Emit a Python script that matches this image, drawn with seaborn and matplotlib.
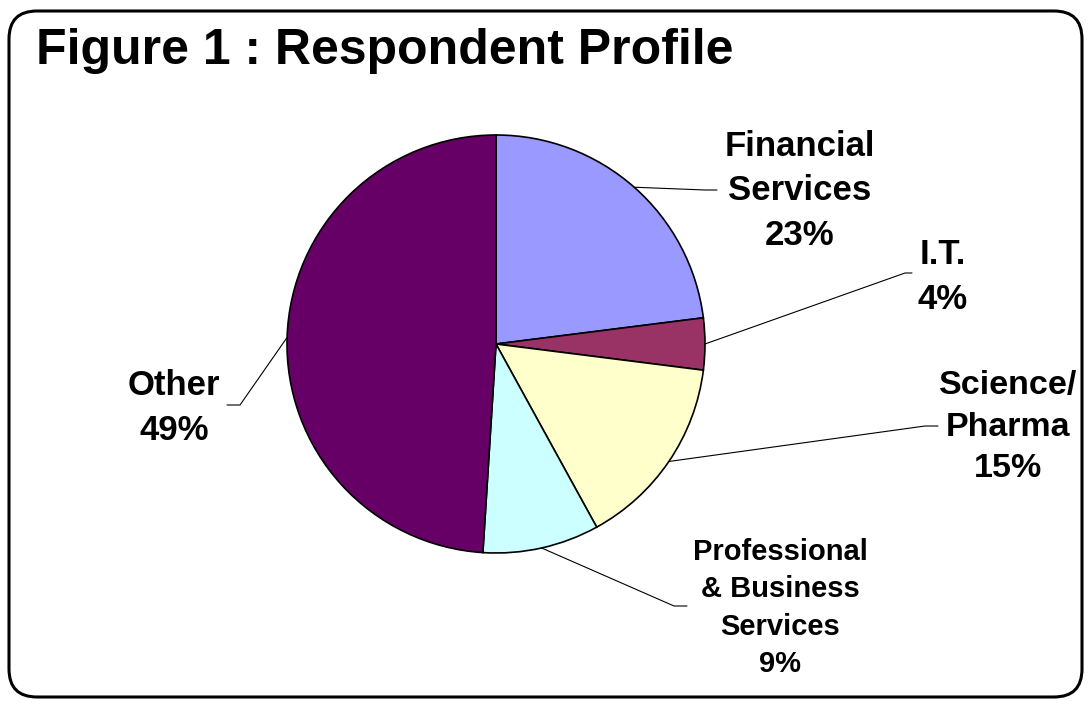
import numpy as np
import matplotlib
matplotlib.use('Agg')
import matplotlib.pyplot as plt
from matplotlib.patches import FancyBboxPatch
import seaborn as sns

sns.set_style('white')
plt.rcParams['font.family'] = ['Liberation Sans', 'DejaVu Sans']
plt.rcParams['text.color'] = 'black'

# data
labels = ['Financial\nServices', 'I.T.', 'Science/\nPharma', 'Professional\n& Business\nServices', 'Other']
values = [23, 4, 15, 9, 49]
colors = ['#9999FF', '#993366', '#FFFFCC', '#CCFFFF', '#660066']

# layout (pixels, y measured from top)
W, H = 1090, 704
cx, cy, R = 496, 344, 209
label_pos = [(800, 191), (943, 277), (1008, 427), (780, 608), (174, 408)]
label_size = [25, 25, 24.5, 21, 25]
kinks = [((705, 190), (717, 190)), ((905, 273), (912, 273)), ((925, 426), (938, 426)),
         ((674, 606), (687, 606)), ((240, 405), (227, 405))]

def Y(py):
    return H - py

fig = plt.figure(figsize=(W / 100, H / 100), dpi=100)
ax = fig.add_axes([0, 0, 1, 1])

wedges, _ = ax.pie(values, colors=colors, startangle=90, counterclock=False,
                   center=(cx, Y(cy)), radius=R,
                   wedgeprops={'edgecolor': 'black', 'linewidth': 1.2})
ax.set_xlim(0, W)
ax.set_ylim(0, H)
ax.set_aspect('equal')
ax.axis('off')

for w, lab, v, (lx, ly), fs, (k1, k2) in zip(wedges, labels, values, label_pos, label_size, kinks):
    ang = np.deg2rad((w.theta1 + w.theta2) / 2)
    sx = cx + R * np.cos(ang)
    sy = Y(cy) + R * np.sin(ang)
    ax.plot([sx, k1[0], k2[0]], [sy, Y(k1[1]), Y(k2[1])], color='black', lw=0.8)
    ax.text(lx, Y(ly), f'{lab}\n{v}%', ha='center', va='center', fontsize=fs,
            fontweight='bold', linespacing=1.43, color='black')

ax.text(36, Y(64), 'Figure 1 : Respondent Profile', fontsize=36, fontweight='bold',
        ha='left', va='baseline', color='black')

frame = FancyBboxPatch((9, Y(697)), 1073, 686, boxstyle='round,pad=0,rounding_size=28',
                       facecolor='none', edgecolor='black', linewidth=2.2)
ax.add_patch(frame)

fig.savefig('out.png', dpi=100)
